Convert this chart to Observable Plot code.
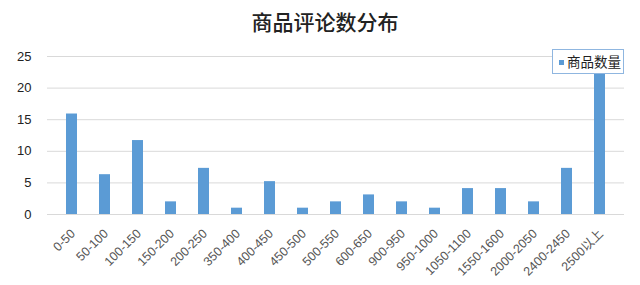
<!DOCTYPE html>
<html>
<head>
<meta charset="utf-8">
<script src="https://cdn.jsdelivr.net/npm/d3@7"></script>
<script src="https://cdn.jsdelivr.net/npm/@observablehq/plot@0.6"></script>
<style>
  html, body { margin: 0; padding: 0; background: #fff; }
  #wrap { position: relative; width: 640px; height: 285px; font-family: "Liberation Sans", "Noto Sans CJK SC", sans-serif; }
  #title { position: absolute; left: 0; top: 0; width: 650px; height: 40px; line-height: 42px; text-align: center; font-family: "Noto Sans CJK SC", sans-serif; font-size: 21px; font-weight: 500; color: #222; }
  #chart { position: absolute; left: 0; top: 40px; }
  #legend { position: absolute; left: 552px; top: 49px; width: 70px; height: 23px; border: 1px solid #8fb6e0; background: #fff; font-family: "Noto Sans CJK SC", sans-serif; font-size: 13.5px; color: #222; line-height: 23px; box-sizing: content-box; white-space: nowrap; }
  #legend .sw { display: inline-block; width: 5px; height: 5px; background: #5b9bd5; margin-left: 6px; margin-right: 3px; vertical-align: middle; position: relative; top: -1px; }
</style>
</head>
<body>
<div id="wrap">
  <div id="title">商品评论数分布</div>
  <div id="chart"></div>
  <div id="legend"><span class="sw"></span><span id="legendText"></span></div>
</div>
<script>
const categories = ["0-50","50-100","100-150","150-200","200-250","350-400","400-450","450-500","500-550","600-650","900-950","950-1000","1050-1100","1550-1600","2000-2050","2400-2450","2500以上"];
const counts = [15.9, 6.3, 11.7, 2, 7.3, 1, 5.2, 1, 2, 3.1, 2, 1, 4.1, 4.1, 2, 7.3, 24];
const yTicks = [0, 5, 10, 15, 20, 25];
const seriesName = "商品数量";

const data = categories.map((c, i) => ({category: c, value: counts[i]}));
document.getElementById("legendText").textContent = seriesName;

const chart = Plot.plot({
  width: 640,
  height: 245,
  marginLeft: 47,
  marginRight: 16,
  marginTop: 16,
  marginBottom: 71,
  style: { fontFamily: "Liberation Sans, Noto Sans CJK SC, sans-serif", background: "#fff" },
  x: { type: "band", domain: categories, paddingInner: 0.68, paddingOuter: 0.34, label: null },
  y: { domain: [0, 25], label: null },
  marks: [
    Plot.gridY(yTicks, { stroke: "#d9d9d9", strokeOpacity: 1, strokeWidth: 1 }),
    Plot.barY(data, { x: "category", y: "value", fill: "#5b9bd5" }),
    Plot.axisY(yTicks, { tickSize: 0, tickPadding: 16, fontSize: 13, fill: "#222", label: null }),
    Plot.axisX({ tickRotate: -45, tickSize: 0, tickPadding: 10, fontSize: 12.5, fill: "#555", label: null, dx: 1, dy: 7 })
  ]
});
document.getElementById("chart").appendChild(chart);
</script>
</body>
</html>
